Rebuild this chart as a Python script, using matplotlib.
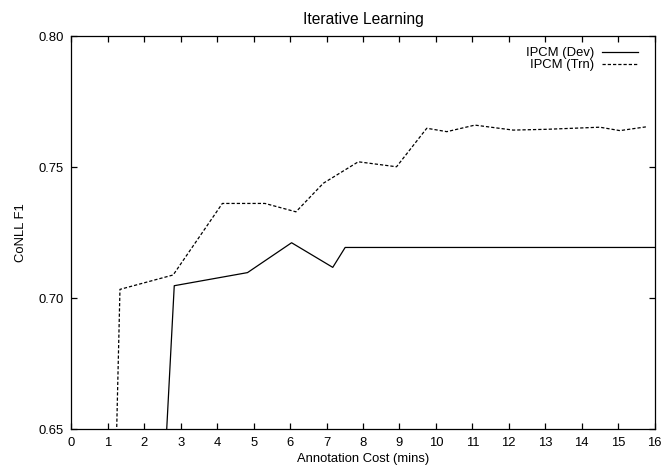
import matplotlib
matplotlib.use('Agg')
import matplotlib.pyplot as plt

plt.rcParams['font.family'] = ['Liberation Sans', 'DejaVu Sans']
plt.rcParams['font.size'] = 9.4

##### Data
dev_x = [2.5, 2.82, 4.83, 6.04, 7.17, 7.51, 16.0]
dev_y = [0.62, 0.7047, 0.7097, 0.7211, 0.7117, 0.7193, 0.7193]

trn_x = [1.2, 1.33, 2.79, 4.14, 5.31, 6.16, 6.91, 7.87, 8.92, 9.75, 10.30,
         11.07, 12.12, 13.04, 14.50, 15.05, 15.80]
trn_y = [0.626, 0.7033, 0.7088, 0.7361, 0.7361, 0.7329, 0.7438, 0.752, 0.7501,
         0.7648, 0.7635, 0.766, 0.7641, 0.7644, 0.7652, 0.7639, 0.7654]

x_ticks = list(range(0, 17))
y_ticks = [0.65, 0.70, 0.75, 0.80]
y_tick_labels = ['0.65', '0.70', '0.75', '0.80']

##### Figure
fig = plt.figure(figsize=(6.62, 4.68), dpi=100)
ax = fig.add_axes([0.108, 0.0833, 0.8807, 0.8397])

ax.plot(dev_x, dev_y, color='black', lw=0.9, ls='-', label='IPCM (Dev)')
ax.plot(trn_x, trn_y, color='black', lw=0.9, ls=(0, (2.6, 1.6)), label='IPCM (Trn)')

ax.set_xlim(0, 16)
ax.set_ylim(0.65, 0.80)
ax.set_xticks(x_ticks)
ax.set_yticks(y_ticks)
ax.set_yticklabels(y_tick_labels)
ax.tick_params(direction='in', top=True, right=True, length=4, width=0.9, pad=5.5)
for s in ax.spines.values():
    s.set_linewidth(0.9)

ax.set_xlabel('Annotation Cost (mins)', labelpad=3)
ax.set_ylabel('CoNLL F1', labelpad=8)
ax.set_title('Iterative Learning', pad=9)

# legend: text on the left, sample on the right (gnuplot style)
leg = ax.legend(loc='upper right', bbox_to_anchor=(0.972, 0.972), frameon=False,
                markerfirst=False, handlelength=2.76, handletextpad=0.61,
                borderaxespad=0, borderpad=0, labelspacing=0)

fig.savefig('out.png', dpi=100)
plt.close()
